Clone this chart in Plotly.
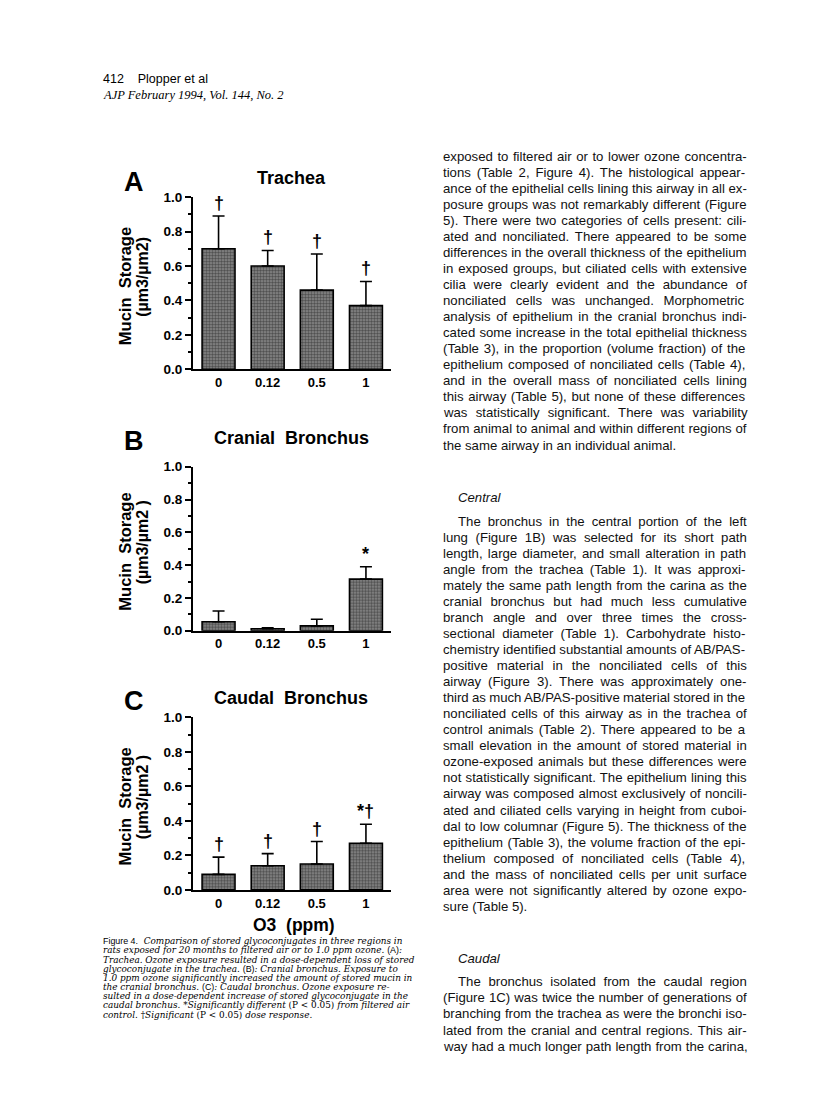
import plotly.graph_objects as go
from plotly.subplots import make_subplots

# ---------------- data ----------------
doses = ["0", "0.12", "0.5", "1"]

trachea = [0.70, 0.60, 0.46, 0.37]
trachea_err = [0.19, 0.09, 0.21, 0.14]
trachea_marks = ["†", "†", "†", "†"]

cranial = [0.055, 0.012, 0.03, 0.315]
cranial_err = [0.065, 0.006, 0.04, 0.075]
cranial_marks = ["", "", "", "*"]

caudal = [0.09, 0.14, 0.15, 0.27]
caudal_err = [0.10, 0.07, 0.13, 0.11]
caudal_marks = ["†", "†", "†", "*†"]

panel_letters = ["A", "B", "C"]
panel_titles = ["Trachea", "Cranial  Bronchus", "Caudal  Bronchus"]
y_title_1 = "Mucin  Storage"
y_title_2 = ["(µm3/µm2)", "(µm3/µm2 )", "(µm3/µm2 )"]
y_ticks = [0.0, 0.2, 0.4, 0.6, 0.8, 1.0]
x_title = "O3  (ppm)"

header_lines = ["412    Plopper et al", "<i>AJP February 1994, Vol. 144, No. 2</i>"]

SANS = "Liberation Sans, Arial, Helvetica, sans-serif"
SERIF = "DejaVu Serif, Liberation Serif, serif"


def s(t):
    return f'<span style="font-family:Liberation Sans;font-style:normal">{t}</span>'


def r(t):
    return f'<span style="font-style:normal">{t}</span>'


caption_lines = [
    s("Figure 4.") + "  <i>Comparison of stored glycoconjugates in three regions in</i>",
    "<i>rats exposed for 20 months to filtered air or to 1.0 ppm ozone.</i> " + s("(A)") + "<i>:</i>",
    "<i>Trachea. Ozone exposure resulted in a dose-dependent loss of stored</i>",
    "<i>glycoconjugate in the trachea.</i> " + s("(B)") + "<i>: Cranial bronchus. Exposure to</i>",
    "<i>1.0 ppm ozone significantly increased the amount of stored mucin in</i>",
    "<i>the cranial bronchus.</i> " + s("(C)") + "<i>: Caudal bronchus. Ozone exposure re-</i>",
    "<i>sulted in a dose-dependent increase of stored glycoconjugate in the</i>",
    "<i>caudal bronchus. *Significantly different</i> " + r("(P &lt; 0.05)") + " <i>from filtered air</i>",
    "<i>control. </i>†<i>Significant</i> " + r("(P &lt; 0.05)") + " <i>dose response.</i>",
]

para1 = [
    "exposed to filtered air or to lower ozone concentra-",
    "tions (Table 2, Figure 4). The histological appear-",
    "ance of the epithelial cells lining this airway in all ex-",
    "posure groups was not remarkably different (Figure",
    "5). There were two categories of cells present: cili-",
    "ated and nonciliated. There appeared to be some",
    "differences in the overall thickness of the epithelium",
    "in exposed groups, but ciliated cells with extensive",
    "cilia were clearly evident and the abundance of",
    "nonciliated cells was unchanged. Morphometric",
    "analysis of epithelium in the cranial bronchus indi-",
    "cated some increase in the total epithelial thickness",
    "(Table 3), in the proportion (volume fraction) of the",
    "epithelium composed of nonciliated cells (Table 4),",
    "and in the overall mass of nonciliated cells lining",
    "this airway (Table 5), but none of these differences",
    "was statistically significant. There was variability",
    "from animal to animal and within different regions of",
    "the same airway in an individual animal.",
]
heading2 = "Central"
para2 = [
    "The bronchus in the central portion of the left",
    "lung (Figure 1B) was selected for its short path",
    "length, large diameter, and small alteration in path",
    "angle from the trachea (Table 1). It was approxi-",
    "mately the same path length from the carina as the",
    "cranial bronchus but had much less cumulative",
    "branch angle and over three times the cross-",
    "sectional diameter (Table 1). Carbohydrate histo-",
    "chemistry identified substantial amounts of AB/PAS-",
    "positive material in the nonciliated cells of this",
    "airway (Figure 3). There was approximately one-",
    "third as much AB/PAS-positive material stored in the",
    "nonciliated cells of this airway as in the trachea of",
    "control animals (Table 2). There appeared to be a",
    "small elevation in the amount of stored material in",
    "ozone-exposed animals but these differences were",
    "not statistically significant. The epithelium lining this",
    "airway was composed almost exclusively of noncili-",
    "ated and ciliated cells varying in height from cuboi-",
    "dal to low columnar (Figure 5). The thickness of the",
    "epithelium (Table 3), the volume fraction of the epi-",
    "thelium composed of nonciliated cells (Table 4),",
    "and the mass of nonciliated cells per unit surface",
    "area were not significantly altered by ozone expo-",
    "sure (Table 5).",
]
heading3 = "Caudal"
para3 = [
    "The bronchus isolated from the caudal region",
    "(Figure 1C) was twice the number of generations of",
    "branching from the trachea as were the bronchi iso-",
    "lated from the cranial and central regions. This air-",
    "way had a much longer path length from the carina,",
]

# ---------------- layout helpers ----------------
W, H = 816, 1110


def px(x):
    return x / W


def py(y):
    return 1 - y / H


# Helvetica/Arial advance widths (1/1000 em) for justifying body text
_HW = {' ': 278, '!': 278, '(': 333, ')': 333, '*': 389, ',': 278, '-': 333, '.': 278,
       '/': 278, ':': 278, ';': 278, '?': 556}
for _c in "0123456789":
    _HW[_c] = 556
_HW.update(dict(zip("ABCDEFGHIJKLMNOPQRSTUVWXYZ",
                    [667, 667, 722, 722, 667, 611, 778, 722, 278, 500, 667, 556, 833,
                     722, 778, 667, 778, 722, 667, 611, 722, 667, 944, 667, 667, 611])))
_HW.update(dict(zip("abcdefghijklmnopqrstuvwxyz",
                    [556, 556, 500, 556, 556, 278, 556, 556, 222, 222, 500, 222, 833,
                     556, 556, 556, 556, 333, 500, 278, 556, 500, 722, 500, 500, 500])))


def text_w(t, size):
    return sum(_HW.get(c, 556) for c in t) * size / 1000.0


x_left, x_right = 193, 391
panel_boxes = [(192.7, 367.3), (466.0, 632.3), (720.0, 895.0)]
letter_y = [177.5, 440.0, 704.0]
title_y = [173.5, 436.5, 700.0]

fig = make_subplots(rows=3, cols=1)

series = [(trachea, trachea_err, trachea_marks),
          (cranial, cranial_err, cranial_marks),
          (caudal, caudal_err, caudal_marks)]

annotations = []
for i, (vals, errs, marks) in enumerate(series):
    rr = i + 1
    fig.add_trace(go.Bar(
        x=doses, y=vals, width=0.67,
        marker=dict(
            color="#5e5e5e",
            line=dict(color="black", width=1.6),
            pattern=dict(shape=".", fgcolor="#111111", bgcolor="#8c8c8c",
                         size=3, solidity=0.55),
        ),
        error_y=dict(type="data", symmetric=False, array=errs,
                     arrayminus=[0] * len(errs), color="black",
                     thickness=1.6, width=6),
        showlegend=False,
    ), row=rr, col=1)
    top, bot = panel_boxes[i]
    ax = "" if rr == 1 else str(rr)
    fig.update_layout(**{
        f"xaxis{ax}": dict(
            type="category",
            domain=[px(x_left), px(x_right)], range=[-0.52, 3.51],
            showline=True, linewidth=2, linecolor="black", ticks="",
            showgrid=False, zeroline=False,
            tickfont=dict(family=SANS, size=13, color="black", weight="bold"),
        ),
        f"yaxis{ax}": dict(
            domain=[py(bot), py(top)], range=[0, 1.0],
            tickvals=y_ticks, tickformat=".1f",
            showline=True, linewidth=2, linecolor="black",
            ticks="outside", ticklen=6, tickwidth=2, tickcolor="black",
            minor=dict(dtick=0.1, ticks="outside", ticklen=3, tickwidth=1.5,
                       tickcolor="black"),
            showgrid=False, zeroline=False,
            tickfont=dict(family=SANS, size=13.5, color="black", weight="bold"),
        ),
    })
    xref = "x" if rr == 1 else f"x{rr}"
    yref = "y" if rr == 1 else f"y{rr}"
    for k, (v, e, m) in enumerate(zip(vals, errs, marks)):
        if m:
            annotations.append(dict(
                x=k, y=v + e, xref=xref, yref=yref, text=f"<b>{m}</b>",
                showarrow=False, yanchor="bottom", yshift=1,
                font=dict(family=SANS, size=18, color="black")))
    annotations.append(dict(x=px(134), y=py(letter_y[i]), xref="paper", yref="paper",
                            text=f"<b>{panel_letters[i]}</b>", showarrow=False,
                            xanchor="center", yanchor="middle",
                            font=dict(family=SANS, size=27, color="black")))
    annotations.append(dict(x=px(291), y=py(title_y[i]), xref="paper", yref="paper",
                            text=f"<b>{panel_titles[i]}</b>", showarrow=False,
                            xanchor="center", yanchor="middle",
                            font=dict(family=SANS, size=18, color="black")))
    mid = (top + bot) / 2
    annotations.append(dict(x=px(125), y=py(mid + 3), xref="paper", yref="paper",
                            text=f"<b>{y_title_1}</b>", textangle=-90,
                            showarrow=False, xanchor="center", yanchor="middle",
                            font=dict(family=SANS, size=16.5, color="black")))
    annotations.append(dict(x=px(142.5), y=py(mid - 6), xref="paper", yref="paper",
                            text=f"<b>{y_title_2[i]}</b>", textangle=-90,
                            showarrow=False, xanchor="center", yanchor="middle",
                            font=dict(family=SANS, size=16, color="black")))

annotations.append(dict(x=px(294), y=py(931), xref="paper", yref="paper",
                        text=f"<b>{x_title}</b>", showarrow=False,
                        xanchor="center", yanchor="middle",
                        font=dict(family=SANS, size=17.5, color="black")))

annotations.append(dict(x=px(101), y=py(73), xref="paper", yref="paper",
                        text=header_lines[0], showarrow=False, xanchor="left",
                        yanchor="middle",
                        font=dict(family=SANS, size=12.5, color="black")))
annotations.append(dict(x=px(101), y=py(89), xref="paper", yref="paper",
                        text=header_lines[1], showarrow=False, xanchor="left",
                        yanchor="middle",
                        font=dict(family="Liberation Serif, serif", size=12.5, color="black")))

for k, line in enumerate(caption_lines):
    annotations.append(dict(x=px(101), y=py(947 + 9.3 * k), xref="paper", yref="paper",
                            text=line, showarrow=False, xanchor="left",
                            yanchor="middle",
                            font=dict(family=SERIF, size=8.9, color="black")))

TX = 441
TX_R = 745
LS = 16.24
BODY = 13.2


def body(lines, y0, indent_first=False):
    n = len(lines)
    for k, line in enumerate(lines):
        x0 = TX + (15 if (indent_first and k == 0) else 0)
        txt = line
        last = (k == n - 1) and line.endswith(".")
        if not last and line.count(" ") > 0:
            ws = (TX_R - x0 - text_w(line, BODY)) / line.count(" ")
            ws = max(min(ws, 6.0), -1.5)
            txt = f'<span style="word-spacing:{ws:.2f}px">{line}</span>'
        annotations.append(dict(x=px(x0), y=py(y0 + LS * k), xref="paper", yref="paper",
                                text=txt, showarrow=False, xanchor="left",
                                yanchor="middle",
                                font=dict(family=SANS, size=BODY, color="#111111")))


body(para1, 151.7)
annotations.append(dict(x=px(TX + 15), y=py(497.7), xref="paper", yref="paper",
                        text=f"<i>{heading2}</i>", showarrow=False, xanchor="left",
                        yanchor="middle", font=dict(family=SANS, size=BODY, color="#111111")))
body(para2, 521.7, indent_first=True)
annotations.append(dict(x=px(TX + 15), y=py(964.3), xref="paper", yref="paper",
                        text=f"<i>{heading3}</i>", showarrow=False, xanchor="left",
                        yanchor="middle", font=dict(family=SANS, size=BODY, color="#111111")))
body(para3, 988.3, indent_first=True)

fig.update_layout(
    width=W, height=H, autosize=False,
    margin=dict(l=0, r=0, t=0, b=0),
    paper_bgcolor="white", plot_bgcolor="white",
    annotations=annotations,
    bargap=0.3,
)

fig.write_html("out.html", config={"displayModeBar": False},
               post_script="document.body.style.margin='0';")
